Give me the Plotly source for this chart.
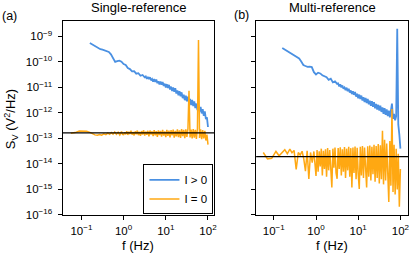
import numpy as np
import plotly.graph_objects as go

# ---------------- data (log10 units) ----------------
log_f_blue = [-0.80, -0.75, -0.70, -0.65, -0.60, -0.55, -0.50, -0.45, -0.40, -0.35,
              -0.30, -0.25, -0.20, -0.15, -0.10, -0.05, 0.00, 0.05, 0.10, 0.15,
              0.20, 0.25, 0.30, 0.35, 0.40, 0.45, 0.50,
              0.525, 0.55, 0.575, 0.60, 0.625, 0.65, 0.675, 0.70, 0.725, 0.75,
              0.775, 0.80, 0.825, 0.85, 0.875, 0.90, 0.925, 0.95, 0.975, 1.00,
              1.025, 1.05, 1.075, 1.10, 1.125, 1.15, 1.175, 1.20, 1.225, 1.25,
              1.275, 1.30, 1.325, 1.35, 1.375, 1.40, 1.425, 1.45, 1.475, 1.50,
              1.525, 1.55, 1.575, 1.60, 1.625, 1.65, 1.675, 1.70, 1.725, 1.75,
              1.775, 1.80, 1.825, 1.85, 1.875, 1.90, 1.925, 1.95, 1.975, 2.00]

log_s_blue_a = [-9.26, -9.31, -9.36, -9.42, -9.47, -9.50, -9.52, -9.55, -9.57, -9.61,
                -9.70, -9.88, -10.00, -9.97, -9.95, -9.99, -10.08, -10.12, -10.24, -10.28,
                -10.37, -10.36, -10.46, -10.44, -10.54, -10.51, -10.60,
                -10.57, -10.66, -10.59, -10.67, -10.60, -10.72, -10.67, -10.77, -10.67, -10.78,
                -10.69, -10.83, -10.76, -10.88, -10.77, -10.89, -10.79, -10.94, -10.85, -11.00,
                -10.87, -11.02, -10.90, -11.08, -10.97, -11.14, -11.00, -11.17, -11.03, -11.24,
                -11.12, -11.31, -11.15, -11.35, -11.19, -11.42, -11.28, -11.50, -11.32, -11.54,
                -11.36, -11.61, -11.45, -11.69, -11.49, -11.73, -11.55, -11.81, -11.63, -11.89,
                -11.69, -11.94, -11.76, -12.02, -11.85, -12.11, -11.94, -12.24, -12.17, -12.55]

log_s_blue_b = [-9.45, -9.50, -9.55, -9.60, -9.66, -9.71, -9.75, -9.80, -9.86, -9.98,
                -10.12, -10.16, -10.19, -10.18, -10.20, -10.40, -10.49, -10.42, -10.45, -10.52,
                -10.56, -10.60, -10.70, -10.66, -10.80, -10.76, -10.86,
                -10.84, -10.96, -10.88, -11.00, -10.92, -11.05, -11.00, -11.11, -11.01, -11.15,
                -11.05, -11.20, -11.12, -11.26, -11.15, -11.29, -11.18, -11.36, -11.25, -11.42,
                -11.28, -11.45, -11.32, -11.51, -11.38, -11.57, -11.41, -11.61, -11.45, -11.66,
                -11.52, -11.72, -11.54, -11.76, -11.58, -11.82, -11.65, -11.87, -11.68, -11.91,
                -11.71, -11.96, -11.78, -12.03, -11.81, -12.07, -11.86, -12.12, -11.91, -12.17,
                -11.95, -11.63, -12.23, -12.04, -12.29, -12.12, -8.70, -12.45, -12.85, -13.40]

log_f_orange = [-1.25, -1.15, -1.05, -0.95, -0.875, -0.80, -0.74, -0.68, -0.62, -0.57,
                -0.52, -0.47, -0.42, -0.375, -0.33, -0.29, -0.25, -0.21, -0.17, -0.13,
                -0.09, -0.05, -0.025, 0.00,
                0.025, 0.05, 0.075, 0.10, 0.125, 0.15, 0.175, 0.20, 0.225, 0.25,
                0.275, 0.30, 0.325, 0.35, 0.375, 0.40, 0.425, 0.45, 0.475, 0.50,
                0.525, 0.55, 0.575, 0.60, 0.625, 0.65, 0.675, 0.70, 0.725, 0.75,
                0.775, 0.80, 0.825, 0.85, 0.875, 0.90, 0.925, 0.95, 0.975, 1.00,
                1.025, 1.05, 1.075, 1.10, 1.125, 1.15, 1.175, 1.20, 1.225, 1.25,
                1.275, 1.30, 1.325, 1.35, 1.375, 1.40, 1.425, 1.45, 1.475, 1.50,
                1.525, 1.55, 1.575, 1.60, 1.625, 1.65, 1.675, 1.70, 1.725, 1.75,
                1.775, 1.80, 1.825, 1.85, 1.875, 1.90, 1.925, 1.95, 1.975, 2.00]

log_s_orange_a = [-12.80, -12.77, -12.71, -12.70, -12.72, -12.76, -12.81, -12.86, -12.87, -12.85,
                  -12.87, -12.82, -12.85, -12.79, -12.84, -12.77, -12.83, -12.75, -12.84, -12.76,
                  -12.86, -12.73, -12.84, -12.85,
                  -12.76, -12.84, -12.72, -12.86, -12.74, -12.83, -12.70, -12.85, -12.75, -12.88,
                  -12.72, -12.84, -12.69, -12.87, -12.74, -12.90, -12.71, -12.85, -12.68, -12.89,
                  -12.73, -12.86, -12.70, -12.92, -12.69, -12.85, -12.72, -12.91, -12.67, -12.88,
                  -12.71, -12.94, -12.68, -12.87, -12.70, -12.93, -12.66, -12.89, -12.72, -12.95,
                  -12.66, -12.90, -12.69, -12.96, -12.67, -12.88, -12.65, -12.97, -12.70, -12.92,
                  -12.64, -12.95, -12.68, -12.98, -12.63, -12.91, -12.66, -12.99, -12.64, -12.94,
                  -12.62, -11.13, -12.96, -12.65, -13.00, -12.63, -12.97, -12.66, -13.02, -12.62,
                  -9.14, -12.98, -12.64, -13.03, -12.67, -13.00, -12.70, -13.08, -12.85, -13.24]

log_s_orange_b = [-13.55, -13.80, -13.78, -13.51, -13.68, -13.55, -13.44, -13.60, -13.42, -13.56,
                  -13.47, -14.21, -13.55, -13.65, -13.50, -13.80, -14.28, -13.48, -14.59, -13.55,
                  -13.95, -13.51, -14.10, -14.47,
                  -13.45, -14.30, -13.50, -14.10, -13.40, -14.45, -13.48, -14.20, -13.42, -14.50,
                  -13.38, -14.25, -13.45, -14.40, -14.92, -13.40, -14.15, -13.36, -14.35, -14.58,
                  -13.38, -14.20, -13.35, -14.45, -13.42, -14.30, -13.34, -14.55, -13.40, -14.25,
                  -13.33, -14.50, -13.38, -14.92, -13.36, -14.35, -13.32, -14.60, -13.37, -14.40,
                  -14.98, -13.33, -14.45, -13.30, -14.55, -13.36, -14.30, -14.92, -13.31, -14.50,
                  -13.28, -14.65, -13.33, -14.40, -13.25, -14.70, -13.30, -14.55, -13.22, -14.77,
                  -13.27, -14.60, -12.70, -14.80, -13.05, -14.65, -13.20, -14.90, -15.49, -13.10,
                  -14.85, -11.85, -15.10, -13.25, -15.20, -13.40, -15.00, -13.60, -15.68, -14.20]

noise_floor_a = 1.65e-13
noise_floor_b = 1.95e-14

x_tick_exponents = [-1, 0, 1, 2]
y_tick_exponents = [-16, -15, -14, -13, -12, -11, -10, -9]

series_names = ["I > 0", "I = 0"]
panel_titles = ["Single-reference", "Multi-reference"]
panel_labels = ["(a)", "(b)"]
x_title = "f (Hz)"
y_title = "S<sub>V</sub> (V<sup>2</sup>/Hz)"

assert len(log_f_blue) == len(log_s_blue_a) == len(log_s_blue_b)
assert len(log_f_orange) == len(log_s_orange_a) == len(log_s_orange_b)

# ---------------- figure ----------------
W, H = 416, 262
BLUE = "#4A90E2"
ORANGE = "#FFA812"
FONT = "Liberation Sans, Arial, sans-serif"


def px_x(p):
    return p / W


def px_y(p):
    return 1 - p / H


def pow_label(e):
    return "10<sup>" + str(e).replace("-", "\u2212") + "</sup>"


f_blue = 10 ** np.array(log_f_blue)
f_orange = 10 ** np.array(log_f_orange)

fig = go.Figure()
panels = [("x", "y", log_s_blue_a, log_s_orange_a, True),
          ("x2", "y2", log_s_blue_b, log_s_orange_b, False)]
for xa, ya, sb, so, show in panels:
    fig.add_trace(go.Scatter(x=f_blue, y=10 ** np.array(sb), mode="lines",
                             line=dict(color=BLUE, width=1.8), name=series_names[0],
                             showlegend=show, xaxis=xa, yaxis=ya))
    fig.add_trace(go.Scatter(x=f_orange, y=10 ** np.array(so), mode="lines",
                             line=dict(color=ORANGE, width=1.5), name=series_names[1],
                             showlegend=show, xaxis=xa, yaxis=ya))

for xr, yr, val in [("x domain", "y", noise_floor_a), ("x2 domain", "y2", noise_floor_b)]:
    fig.add_shape(type="line", xref=xr, yref=yr, x0=0, x1=1, y0=val, y1=val,
                  line=dict(color="black", width=1.3), layer="above")

axis_common = dict(type="log", showgrid=False, zeroline=False, showline=True,
                   linecolor="black", linewidth=1, mirror=True, ticks="outside",
                   ticklen=4, tickwidth=1, tickcolor="black",
                   tickfont=dict(size=11.5, color="black", family=FONT))
x_ticks = dict(tickmode="array", tickvals=[10.0 ** e for e in x_tick_exponents],
               ticktext=[pow_label(e) for e in x_tick_exponents])
y_ticks = dict(tickmode="array", tickvals=[10.0 ** e for e in y_tick_exponents],
               ticktext=[pow_label(e) for e in y_tick_exponents])

dom_a = [px_x(63), px_x(216)]
dom_b = [px_x(258), px_x(411)]
dom_y = [px_y(220), px_y(21)]

fig.update_layout(
    width=W, height=H,
    margin=dict(l=0, r=0, t=0, b=0),
    paper_bgcolor="white", plot_bgcolor="white",
    font=dict(family=FONT, color="black", size=11.5),
    xaxis=dict(axis_common, **x_ticks, domain=dom_a, range=[-1.447, 2.153], anchor="y",
               ticklabelstandoff=1),
    yaxis=dict(axis_common, **y_ticks, domain=dom_y, range=[-16, -8.375], anchor="x",
               ticklabelstandoff=3),
    xaxis2=dict(axis_common, **x_ticks, domain=dom_b, range=[-1.419, 2.181], anchor="y2",
                ticklabelstandoff=1),
    yaxis2=dict(axis_common, **y_ticks, domain=dom_y, range=[-16, -8.375], anchor="x2",
                showticklabels=False),
    legend=dict(x=px_x(215), y=px_y(219.5), xanchor="right", yanchor="bottom",
                bordercolor="black", borderwidth=1, bgcolor="white",
                font=dict(size=11.5, family=FONT, color="black"), itemwidth=30,
                tracegroupgap=0),
    showlegend=True,
)

ann = []
ann.append(dict(text=panel_titles[0], x=px_x(139.5), y=px_y(8), xref="paper", yref="paper",
                showarrow=False, font=dict(size=13), xanchor="center", yanchor="middle"))
ann.append(dict(text=panel_titles[1], x=px_x(334.5), y=px_y(8), xref="paper", yref="paper",
                showarrow=False, font=dict(size=13), xanchor="center", yanchor="middle"))
ann.append(dict(text=panel_labels[0], x=px_x(0), y=px_y(16), xref="paper", yref="paper",
                showarrow=False, font=dict(size=12.5), xanchor="left", yanchor="middle"))
ann.append(dict(text=panel_labels[1], x=px_x(234), y=px_y(15), xref="paper", yref="paper",
                showarrow=False, font=dict(size=12.5), xanchor="left", yanchor="middle"))
ann.append(dict(text=x_title, x=px_x(139.5), y=px_y(251.5), xref="paper", yref="paper",
                showarrow=False, font=dict(size=13), xanchor="center", yanchor="middle"))
ann.append(dict(text=x_title, x=px_x(334.5), y=px_y(251.5), xref="paper", yref="paper",
                showarrow=False, font=dict(size=13), xanchor="center", yanchor="middle"))
ann.append(dict(text=y_title, x=px_x(11), y=px_y(122), xref="paper", yref="paper",
                showarrow=False, font=dict(size=13), textangle=-90,
                xanchor="center", yanchor="middle"))
fig.update_layout(annotations=ann)

fig.write_html("out.html", config={"displayModeBar": False},
               post_script="document.body.style.margin='0px';document.body.style.padding='0px';")
